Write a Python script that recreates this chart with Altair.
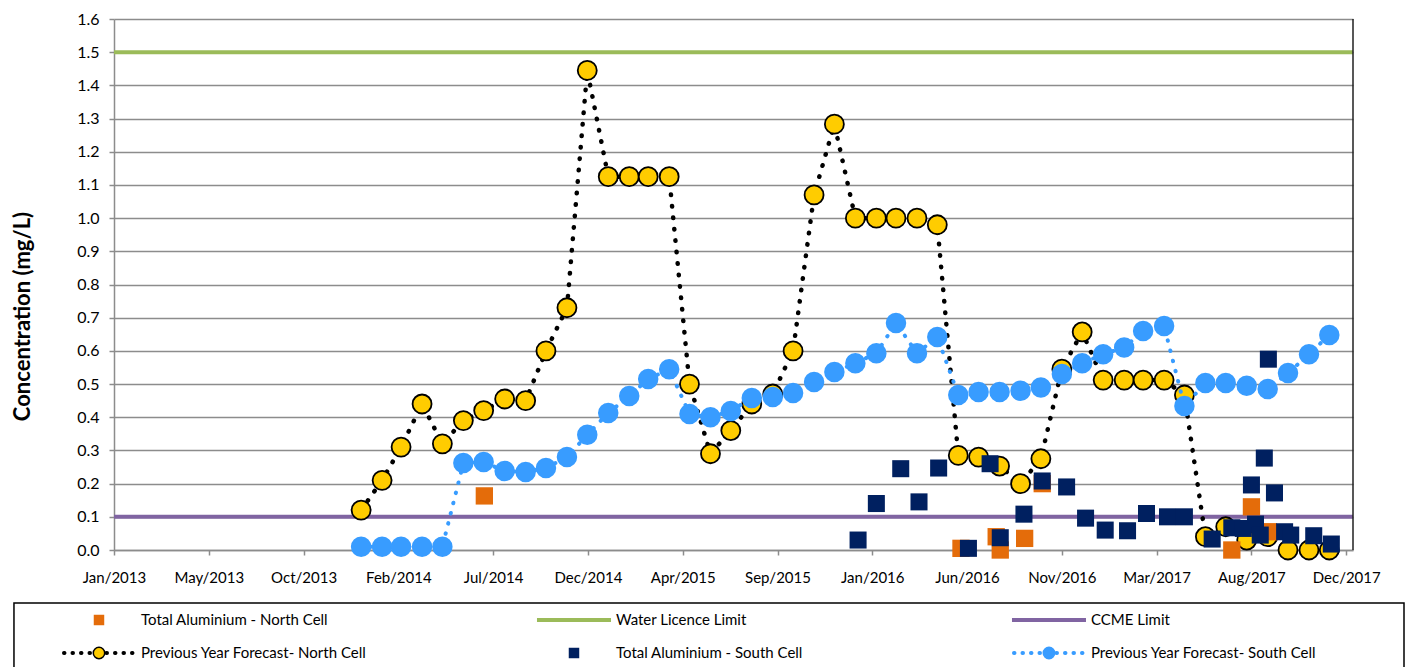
import altair as alt
import pandas as pd

# ---------------- data ----------------
months = pd.date_range("2014-01-01", periods=48, freq="MS").strftime("%Y-%m-%d").tolist()

north_forecast = [0.12, 0.21, 0.31, 0.44, 0.32, 0.39, 0.42, 0.455, 0.45, 0.60, 0.73, 1.445,
                  1.125, 1.125, 1.125, 1.125, 0.50, 0.29, 0.36, 0.44, 0.47, 0.60, 1.07, 1.283,
                  1.0, 1.0, 1.0, 1.0, 0.98, 0.285, 0.28, 0.253, 0.20, 0.275, 0.545, 0.657,
                  0.512, 0.512, 0.512, 0.512, 0.467, 0.04, 0.07, 0.03, 0.04, 0.0, 0.0, 0.0]

south_forecast = [0.01, 0.01, 0.01, 0.01, 0.01, 0.262, 0.265, 0.238, 0.235, 0.247, 0.28, 0.347,
                  0.413, 0.464, 0.515, 0.545, 0.41, 0.40, 0.419, 0.458, 0.461, 0.473, 0.506, 0.536,
                  0.563, 0.593, 0.684, 0.593, 0.642, 0.467, 0.476, 0.476, 0.48, 0.49, 0.53, 0.563,
                  0.59, 0.61, 0.66, 0.675, 0.434, 0.503, 0.503, 0.495, 0.485, 0.533, 0.59, 0.648]

north_dates = ["2014-07-02", "2016-06-05", "2016-07-27", "2016-08-02", "2016-09-07",
               "2016-10-03", "2017-07-10", "2017-08-08", "2017-09-02"]
north_values = [0.163, 0.005, 0.04, 0.0, 0.035, 0.2, 0.0, 0.13, 0.055]

south_dates = ["2016-01-05", "2016-02-01", "2016-03-08", "2016-04-04", "2016-05-03",
               "2016-06-16", "2016-07-18", "2016-08-02", "2016-09-06", "2016-10-03",
               "2016-11-08", "2016-12-06", "2017-01-04", "2017-02-06", "2017-03-06",
               "2017-04-06", "2017-05-01", "2017-06-11", "2017-07-10", "2017-07-27",
               "2017-08-08", "2017-08-14", "2017-08-21", "2017-08-27", "2017-09-02",
               "2017-09-11", "2017-09-26", "2017-10-05", "2017-11-08", "2017-12-04"]
south_values = [0.03, 0.14, 0.245, 0.145, 0.247, 0.005, 0.26, 0.037, 0.108, 0.208,
                0.19, 0.096, 0.06, 0.058, 0.11, 0.10, 0.10, 0.033, 0.067, 0.065,
                0.196, 0.078, 0.045, 0.277, 0.575, 0.172, 0.055, 0.045, 0.043, 0.018]

water_licence_limit = [1.5]
ccme_limit = [0.1]

x_ticks = [(2013, 1, 1), (2013, 5, 21), (2013, 10, 8), (2014, 2, 25), (2014, 7, 15),
           (2014, 12, 2), (2015, 4, 21), (2015, 9, 8), (2016, 1, 26), (2016, 6, 14),
           (2016, 11, 1), (2017, 3, 21), (2017, 8, 8), (2017, 12, 26)]
x_domain = [(2013, 1, 1), (2018, 1, 5)]
y_ticks = [0.0, 0.1, 0.2, 0.3, 0.4, 0.5, 0.6, 0.7, 0.8, 0.9, 1.0, 1.1, 1.2, 1.3, 1.4, 1.5, 1.6]

legend_labels = ["Total Aluminium - North Cell", "Water Licence Limit", "CCME Limit",
                 "Previous Year Forecast- North Cell", "Total Aluminium - South Cell",
                 "Previous Year Forecast- South Cell"]
legend_col = [0, 1, 2, 0, 1, 2]
legend_row = [0, 0, 0, 1, 1, 1]

# ---------------- styles / layout ----------------
FONT = "Lato"
ORANGE = "#E46C0A"
NAVY = "#002060"
GREEN = "#9BBB59"
PURPLE = "#8064A2"
YELLOW = "#FFCC00"
BLUE = "#389CFF"
GRID = "#8C8C8C"

fill_range = [ORANGE, GREEN, PURPLE, YELLOW, NAVY, BLUE]
stroke_range = [ORANGE, GREEN, PURPLE, "black", NAVY, BLUE]

LEG_W, LEG_H = 1290, 70
LEG_X_DOMAIN = [0.0316, 2.7474]
LEG_Y_DOMAIN = [-0.515, 1.606]
LEG_BOX_X = [-0.179, 2.7474]


def dt(t):
    return alt.DateTime(year=t[0], month=t[1], date=t[2], utc=True)


forecast_df = pd.DataFrame({"date": months, "north": north_forecast, "south": south_forecast})
north_df = pd.DataFrame({"date": north_dates, "value": north_values})
south_df = pd.DataFrame({"date": south_dates, "value": south_values})

x_enc = alt.X(
    "date:T",
    scale=alt.Scale(type="utc", domain=[dt(x_domain[0]), dt(x_domain[1])]),
    axis=alt.Axis(values=[dt(t) for t in x_ticks],
                  format="%b/%Y", title=None, grid=False, domainColor=GRID, domainWidth=1.5,
                  tickColor=GRID, tickWidth=1.5, tickSize=5, labelPadding=15,
                  labelOverlap=False, labelFlush=False, labelFontSize=15,
                  labelColor="black", labelFont=FONT),
)


def y_enc(field):
    return alt.Y(
        f"{field}:Q",
        scale=alt.Scale(domain=[0, 1.6], nice=False, zero=True),
        axis=alt.Axis(values=y_ticks, format=".1f", title="Concentration (mg/L)",
                      grid=True, gridColor=GRID, gridWidth=1.3, domainColor=GRID, domainWidth=1.5,
                      tickColor=GRID, tickWidth=1.5, tickSize=5, labelPadding=10,
                      labelOverlap=False, labelFontSize=16, labelColor="black", labelFont=FONT,
                      titleFont=FONT, titleFontSize=22, titleFontWeight="bold",
                      titleColor="black", titlePadding=42, titleY=297),
    )


water = alt.Chart(pd.DataFrame({"value": water_licence_limit})).mark_rule(
    color=GREEN, strokeWidth=4).encode(y=y_enc("value"))
ccme = alt.Chart(pd.DataFrame({"value": ccme_limit})).mark_rule(
    color=PURPLE, strokeWidth=4).encode(y=y_enc("value"))
right_edge = alt.Chart(pd.DataFrame({"date": [f"{x_domain[1][0]}-{x_domain[1][1]:02d}-{x_domain[1][2]:02d}"]})
                       ).mark_rule(color="#202020", strokeWidth=1.5).encode(x=x_enc)

north_line = alt.Chart(forecast_df).mark_line(
    color="black", strokeWidth=4.5, strokeDash=[0.5, 11], strokeCap="round").encode(
    x=x_enc, y=y_enc("north"))
north_pts = alt.Chart(forecast_df).mark_point(
    shape="circle", filled=True, size=361, fill=YELLOW, stroke="black", strokeWidth=1.8,
    opacity=1).encode(x=x_enc, y=y_enc("north"))

south_line = alt.Chart(forecast_df).mark_line(
    color=BLUE, strokeWidth=4, strokeDash=[0.5, 10], strokeCap="round").encode(
    x=x_enc, y=y_enc("south"))
south_pts = alt.Chart(forecast_df).mark_point(
    shape="circle", filled=True, size=420, fill=BLUE, strokeWidth=0, opacity=1).encode(
    x=x_enc, y=y_enc("south"))

north_sq = alt.Chart(north_df).mark_square(size=300, color=ORANGE, opacity=1).encode(
    x=x_enc, y=y_enc("value"))
south_sq = alt.Chart(south_df).mark_square(size=290, color=NAVY, opacity=1).encode(
    x=x_enc, y=y_enc("value"))

main = alt.layer(water, ccme, right_edge, north_line, north_pts, south_line, south_pts,
                 north_sq, south_sq).properties(width=1239, height=531)

# ---------------- legend panel ----------------
leg_df = pd.DataFrame({"label": legend_labels, "col": legend_col, "row": legend_row})
lx = alt.X("col:Q", scale=alt.Scale(domain=LEG_X_DOMAIN, nice=False, zero=False), axis=None)
ly = alt.Y("row:Q", scale=alt.Scale(domain=LEG_Y_DOMAIN, nice=False, zero=False, reverse=True), axis=None)
fill_enc = alt.Fill("label:N", scale=alt.Scale(domain=legend_labels, range=fill_range), legend=None)
stroke_enc = alt.Stroke("label:N", scale=alt.Scale(domain=legend_labels, range=stroke_range), legend=None)

box_df = pd.DataFrame({"col": [LEG_BOX_X[0]], "col2": [LEG_BOX_X[1]],
                       "row": [LEG_Y_DOMAIN[0]], "row2": [LEG_Y_DOMAIN[1]]})
leg_box = alt.Chart(box_df).mark_rect(fill="white", stroke="black", strokeWidth=1.5).encode(
    x=lx, x2="col2:Q", y=ly, y2="row2:Q")

leg_base = alt.Chart(leg_df)
leg_sq = leg_base.transform_filter(
    alt.FieldOneOfPredicate(field="label", oneOf=[legend_labels[0], legend_labels[4]])
).mark_square(size=110, opacity=1).encode(x=lx, y=ly, fill=fill_enc)
leg_lines = leg_base.transform_filter(
    alt.FieldOneOfPredicate(field="label", oneOf=[legend_labels[1], legend_labels[2]])
).mark_rule(strokeWidth=4, xOffset=-37, x2Offset=37).encode(
    x=lx, x2=alt.X2("col:Q"), y=ly, stroke=stroke_enc)
leg_dots = leg_base.transform_filter(
    alt.FieldOneOfPredicate(field="label", oneOf=[legend_labels[3], legend_labels[5]])
).mark_rule(strokeWidth=4, strokeDash=[0.5, 8], strokeCap="round", xOffset=-35, x2Offset=36).encode(
    x=lx, x2=alt.X2("col:Q"), y=ly, stroke=stroke_enc)
leg_circ = leg_base.transform_filter(
    alt.FieldOneOfPredicate(field="label", oneOf=[legend_labels[3], legend_labels[5]])
).mark_point(shape="circle", filled=True, size=130, strokeWidth=1.5, opacity=1).encode(
    x=lx, y=ly, fill=fill_enc, stroke=stroke_enc)
leg_text = leg_base.mark_text(align="left", baseline="middle", dx=42, fontSize=15,
                              font=FONT, color="black").encode(x=lx, y=ly, text="label:N")

legend_panel = alt.layer(leg_box, leg_lines, leg_dots, leg_sq, leg_circ, leg_text).properties(
    width=LEG_W, height=LEG_H)

chart = alt.vconcat(main, legend_panel, spacing=17).resolve_scale(
    x="independent", y="independent").properties(
    padding={"left": 3, "top": 3, "right": 0, "bottom": 0}
).configure_view(strokeWidth=0)

chart.save("out.html", embed_options={"renderer": "svg", "actions": False})
